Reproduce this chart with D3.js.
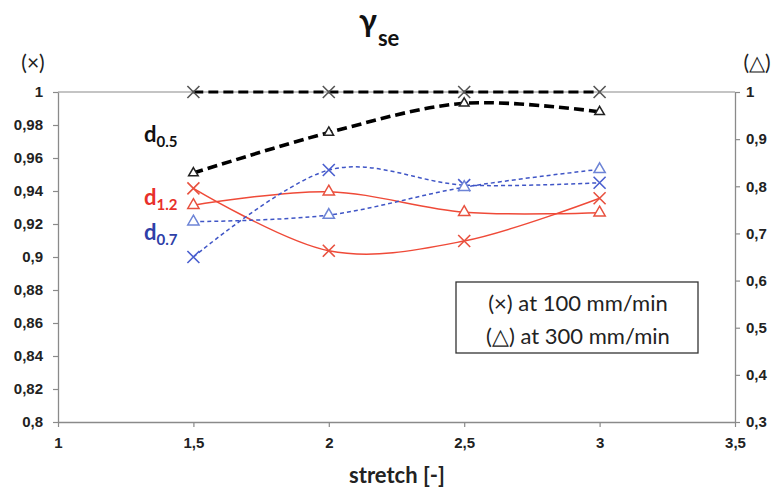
<!DOCTYPE html>
<html><head><meta charset="utf-8">
<script src="https://cdn.jsdelivr.net/npm/d3@7"></script>
<style>
body{margin:0;background:#fff;}
svg{display:block;font-family:Lato,"Open Sans",sans-serif;}
</style></head>
<body><svg id="c" width="779" height="491"></svg>
<script>
// ---- data ----
const stretch = [1.5, 2, 2.5, 3];
const xTicks = [1, 1.5, 2, 2.5, 3, 3.5];
const leftTicks = [0.8, 0.82, 0.84, 0.86, 0.88, 0.9, 0.92, 0.94, 0.96, 0.98, 1];
const rightTicks = [0.3, 0.4, 0.5, 0.6, 0.7, 0.8, 0.9, 1];
// (x) at 100 mm/min -> left axis ; (triangle) at 300 mm/min -> right axis
const d05_100 = [1, 1, 1, 1];
const d05_300 = [0.828, 0.914, 0.976, 0.958];
const d12_100 = [0.9416, 0.9038, 0.9097, 0.9356];
const d12_300 = [0.760, 0.7885, 0.745, 0.744];
const d07_100 = [0.900, 0.9527, 0.9436, 0.945];
const d07_300 = [0.725, 0.739, 0.798, 0.836];
const legendLines = ["(\u00D7) at 100 mm/min", "(\u25B3) at 300 mm/min"];

const svg = d3.select("#c");
const x = d3.scaleLinear().domain([1, 3.5]).range([58, 735]);
const yL = d3.scaleLinear().domain([0.8, 1]).range([422, 92]);
const yR = d3.scaleLinear().domain([0.3, 1]).range([422, 92]);
const fmt = d => String(+d.toFixed(2)).replace(".", ",");
const axisCol = "#8a8a8a";

// top border line
svg.append("line").attr("x1", x(1)).attr("x2", x(3.5)).attr("y1", yL(1)).attr("y2", yL(1))
  .attr("stroke", axisCol).attr("stroke-width", 1.2);

function styleAxis(g){
  g.select(".domain").attr("stroke", axisCol).attr("stroke-width", 1.3);
  g.selectAll(".tick line").attr("stroke", axisCol).attr("stroke-width", 1.2);
  g.selectAll(".tick text").attr("fill", "#222").attr("font-weight", "900").attr("font-size", 15);
}
const gl = svg.append("g").attr("transform", `translate(${x(1)},0)`)
  .call(d3.axisLeft(yL).tickValues(leftTicks).tickFormat(fmt).tickSize(5).tickSizeOuter(0).tickPadding(10));
styleAxis(gl);
const gr = svg.append("g").attr("transform", `translate(${x(3.5)},0)`)
  .call(d3.axisRight(yR).tickValues(rightTicks).tickFormat(fmt).tickSize(5).tickSizeOuter(0).tickPadding(6));
styleAxis(gr);
const gb = svg.append("g").attr("transform", `translate(0,${yL(0.8)})`)
  .call(d3.axisBottom(x).tickValues(xTicks).tickFormat(fmt).tickSize(5).tickSizeOuter(0).tickPadding(10));
styleAxis(gb);

// axis headers
svg.append("text").attr("x", 33).attr("y", 70).attr("text-anchor", "middle").attr("font-size", 21).attr("fill", "#222").text("(\u00D7)");
svg.append("text").attr("x", 757).attr("y", 70).attr("text-anchor", "middle").attr("font-size", 21).attr("fill", "#222").text("(\u25B3)");

// title
const t = svg.append("text").attr("x", 359).attr("y", 32).attr("fill", "#111");
t.append("tspan").attr("font-size", 32).attr("font-weight", "bold").text("\u03B3");
t.append("tspan").attr("font-size", 22).attr("font-weight", "bold").attr("dy", 14).attr("dx", 1).text("se");

// x-axis title
svg.append("text").attr("x", 397).attr("y", 483).attr("text-anchor", "middle")
  .attr("font-size", 22).attr("font-weight", "bold").attr("fill", "#222").text("stretch [-]");

// series drawing
const curve = d3.curveCardinal.tension(0);
function series(vals, yScale, stroke, width, dash, marker, mColor, mSize){
  const pts = stretch.map((s, i) => [x(s), yScale(vals[i])]);
  svg.append("path").attr("d", d3.line().curve(curve)(pts)).attr("fill", "none")
    .attr("stroke", stroke).attr("stroke-width", width).attr("stroke-dasharray", dash);
  const g = svg.append("g");
  pts.forEach(p => {
    if (marker === "x") {
      const h = mSize;
      g.append("path").attr("d", `M${-h},${-h}L${h},${h}M${-h},${h}L${h},${-h}`)
        .attr("transform", `translate(${p[0]},${p[1]})`).attr("stroke", mColor).attr("stroke-width", 1.6).attr("fill", "none");
    } else {
      g.append("path").attr("d", d3.symbol(d3.symbolTriangle, mSize)())
        .attr("transform", `translate(${p[0]},${p[1]})`).attr("stroke", mColor).attr("stroke-width", 1.5).attr("fill", "#fff");
    }
  });
}
const red = "#ef4a38", blue = "#3f55c6";
series(d12_100, yL, red, 1.5, null, "x", "#e8513f", 6);
series(d12_300, yR, red, 1.5, null, "tri", "#e8513f", 55);
series(d07_100, yL, blue, 1.5, "4,3", "x", "#4a5fcf", 6);
series(d07_300, yR, blue, 1.5, "4,3", "tri", "#6d84d6", 55);
series(d05_100, yL, "#000", 3.2, "10,5", "x", "#555", 6);
series(d05_300, yR, "#000", 3.6, "10,5", "tri", "#222", 40);

// series labels
function dlabel(yb, sub, col){
  const tx = svg.append("text").attr("x", 144).attr("y", yb).attr("fill", col).attr("font-weight", "bold");
  tx.append("tspan").attr("font-size", 22).text("d");
  tx.append("tspan").attr("font-size", 15).attr("dy", 5).text(sub);
}
dlabel(142, "0.5", "#111");
dlabel(205, "1.2", "#e8302a");
dlabel(240, "0.7", "#2f40a8");

// legend
svg.append("rect").attr("x", 456).attr("y", 282).attr("width", 242).attr("height", 71)
  .attr("fill", "#fff").attr("stroke", "#333").attr("stroke-width", 1.3);
legendLines.forEach((s, i) => {
  svg.append("text").attr("x", 578).attr("y", 311 + i * 33).attr("text-anchor", "middle")
    .attr("font-size", 22).attr("fill", "#222").text(s);
});
</script></body></html>
